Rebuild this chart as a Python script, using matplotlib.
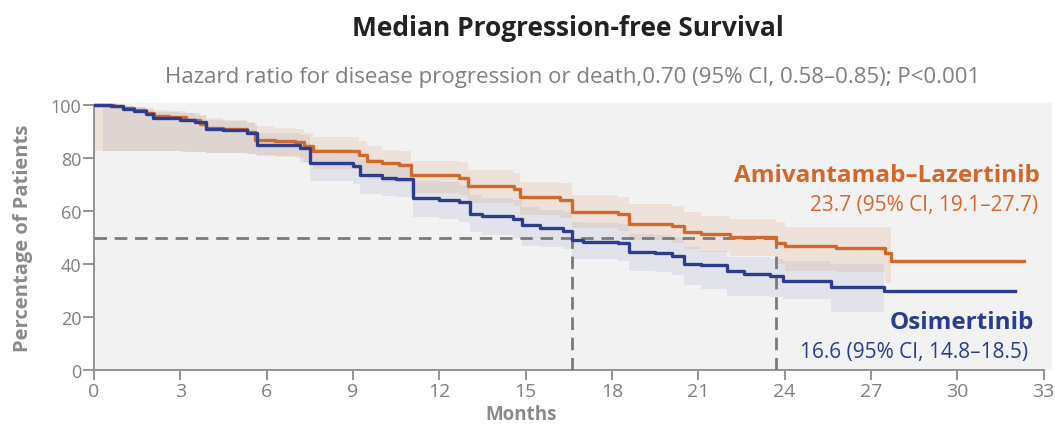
import numpy as np
import matplotlib.pyplot as plt

plt.rcParams['font.family'] = ['Open Sans', 'DejaVu Sans']

# Amivantamab-Lazertinib: step times, survival %, 95% CI band
t_ami = [0.0, 0.7, 1.0, 1.4, 1.8, 2.1, 2.6, 3.2, 3.7, 3.9, 4.5, 5.3, 5.6, 6.3, 7.0, 7.3,
         7.6, 9.2, 9.5, 10.0, 10.6, 11.0, 12.7, 13.0, 14.6, 14.8, 16.2, 16.6, 18.2, 18.6,
         20.1, 20.5, 21.1, 22.1, 23.7, 24.0, 25.8, 27.5, 27.7, 32.3]
s_ami = [100, 99.5, 99, 98, 97, 96, 95.5, 94.5, 93, 91.5, 91, 90, 87, 86.5, 86, 84.5,
         82.5, 81, 79, 78, 77.5, 73.5, 72.5, 69.5, 68.3, 65.2, 64, 59.7, 59, 55.3,
         54.5, 52, 51.5, 50.2, 48, 46.9, 46, 44, 41, 41]
lo_ami = [82.5, 82.5, 82.5, 82.5, 82.5, 82.5, 82.5, 82.3, 82.2, 82, 81.8, 81.5, 81, 80.5, 80, 78.5,
          76, 74.5, 72, 71, 70.5, 67, 66, 63, 62, 58.5, 57.5, 53.5, 52.5, 49,
          48, 45.5, 44.5, 43, 40, 37.5, 37, 33, 33, 33]
hi_ami = [100, 100, 99.8, 99.3, 98.8, 98.3, 97.8, 97, 96, 95, 94.5, 93.8, 92, 91.5, 91, 89.5,
          88, 86.5, 84.5, 83, 82.5, 79, 78.5, 75.5, 74.5, 71, 70.5, 66, 65.5, 62.5,
          62, 59.5, 58.2, 57, 56, 53.8, 53.8, 53.8, 53.8, 53.8]
ci_end_ami = 27.7

# Osimertinib
t_osi = [0.0, 0.3, 0.6, 1.0, 1.4, 1.8, 2.05, 3.0, 3.5, 3.9, 4.5, 5.3, 5.65, 7.15, 7.5, 9.0,
         9.24, 10.0, 10.5, 11.1, 12.0, 12.7, 13.07, 13.5, 14.57, 14.87, 15.5, 16.3, 16.6, 17.0,
         18.2, 18.6, 19.5, 20.1, 20.5, 21.1, 22.0, 22.6, 23.5, 23.95, 25.6, 27.45, 32.0]
s_osi = [100, 100, 99.5, 98.5, 97.8, 96.5, 95, 94.5, 93.5, 91, 90.5, 89.5, 85, 84, 78, 77,
         73.5, 72.5, 72, 65, 64.3, 63.5, 59, 58, 57, 54.7, 53.5, 52.5, 49, 48.5,
         47.8, 44.6, 44, 43, 40, 39.7, 37.5, 36.2, 35.6, 33.7, 31.2, 29.7, 29.7]
lo_osi = [100, 82.5, 82.5, 82.5, 82.5, 82.5, 82.5, 82.3, 82.2, 82, 81.8, 81.5, 80.9, 78, 71.5, 70.2,
          66.5, 65.8, 65.3, 57.6, 57, 56, 52, 51, 50, 47, 46.5, 45.5, 42, 41.9,
          41, 37.5, 37, 36, 32, 30.6, 28, 28, 27.5, 26.8, 22, 22, 22]
hi_osi = [100, 100, 100, 99.7, 99.2, 98.5, 97.5, 97, 96.3, 94.5, 94, 93.3, 89.5, 88.7, 83.5, 82.5,
          79.5, 78.5, 78, 71.5, 71, 70, 66, 65, 64, 61.5, 60.5, 59.5, 56, 55.5,
          55, 51.5, 51, 50, 46.5, 45, 42.5, 42.5, 42, 41.3, 40, 40, 40]
ci_end_osi = 27.45

median_ami = 23.7
median_osi = 16.6
x_ticks = list(range(0, 34, 3))
y_ticks = [0, 20, 40, 60, 80, 100]

orange = '#d2692c'
blue = '#2b3d8c'
grey_txt = '#7f7f7f'
W, H = 1055, 427

fig = plt.figure(figsize=(W / 100, H / 100), dpi=100)
ax = fig.add_axes([94 / W, (H - 371) / H, 958 / W, 267 / H])
ax.set_facecolor('#f2f2f2')

for t, s, lo, hi, end, col, a in [(t_ami, s_ami, lo_ami, hi_ami, ci_end_ami, orange, 0.12),
                                  (t_osi, s_osi, lo_osi, hi_osi, ci_end_osi, blue, 0.08)]:
    t = np.array(t)
    m = t <= end
    ax.fill_between(t[m], np.array(lo)[m], np.array(hi)[m], step='post',
                    color=col, alpha=a, linewidth=0)

dash = dict(color='#7a7a7a', lw=2.0, ls=(0, (4.5, 2.8)), zorder=3)
ax.plot([0, median_ami], [50, 50], **dash)
ax.plot([median_osi, median_osi], [0, 50], **dash)
ax.plot([median_ami, median_ami], [0, 50], **dash)

ax.step(t_ami, s_ami, where='post', color=orange, lw=2.4, zorder=4)
ax.step(t_osi, s_osi, where='post', color=blue, lw=2.4, zorder=5)

ax.set_xlim(0, 33.29)
ax.set_ylim(0, 100.8)
ax.set_xticks(x_ticks)
ax.set_yticks(y_ticks)
for sp in ['top', 'right']:
    ax.spines[sp].set_visible(False)
for sp in ['left', 'bottom']:
    ax.spines[sp].set_color('#8c8c8c')
    ax.spines[sp].set_linewidth(1.3)
ax.spines['left'].set_bounds(0, 100)
ax.spines['bottom'].set_bounds(0, 33)
ax.tick_params(axis='both', colors='#8c8c8c', width=1.3, labelcolor=grey_txt)
ax.tick_params(axis='y', length=8, pad=1, labelsize=13)
ax.tick_params(axis='x', length=7, pad=2, labelsize=14)

fig.text(568 / W, 1 - 28 / H, 'Median Progression-free Survival', ha='center', va='center',
         fontsize=19, fontweight='bold', color='#222222')
fig.text(573 / W, 1 - 78 / H,
         'Hazard ratio for disease progression or death,0.70 (95% CI, 0.58\u20130.85); P<0.001',
         ha='center', va='center', fontsize=16, color=grey_txt)
fig.text(23 / W, 1 - 238 / H, 'Percentage of Patients', rotation=90, ha='center', va='center',
         fontsize=14.5, fontweight='bold', color='#8a8a8a')
fig.text(521 / W, 1 - 425.5 / H, 'Months', ha='center', va='bottom',
         fontsize=13.5, fontweight='bold', color='#8a8a8a')

fig.text(1040 / W, 1 - 182 / H, 'Amivantamab\u2013Lazertinib', ha='right', va='baseline',
         fontsize=17.5, fontweight='bold', color=orange)
fig.text(1038 / W, 1 - 211 / H, '23.7 (95% CI, 19.1\u201327.7)', ha='right', va='baseline',
         fontsize=15, color=orange)
fig.text(1034 / W, 1 - 329 / H, 'Osimertinib', ha='right', va='baseline',
         fontsize=17.5, fontweight='bold', color=blue)
fig.text(1028 / W, 1 - 358 / H, '16.6 (95% CI, 14.8\u201318.5)', ha='right', va='baseline',
         fontsize=15, color=blue)

fig.savefig('out.png', dpi=100, facecolor='white')
